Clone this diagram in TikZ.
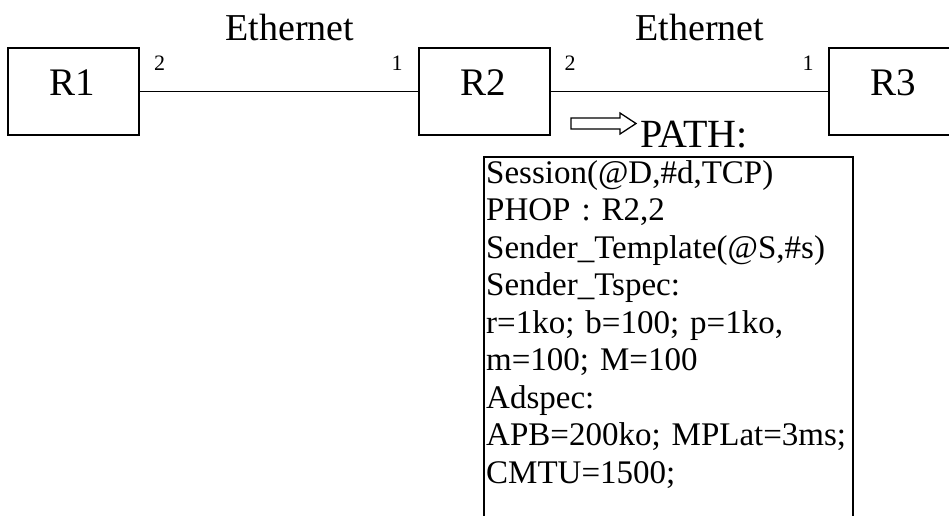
\documentclass[tikz,border=0pt]{standalone}
\usepackage{fontspec}
\setmainfont{Liberation Serif}
\begin{document}
\begin{tikzpicture}[x=1pt,y=-1pt,
  router/.style={draw, line width=1.8pt, minimum width=131pt, minimum height=87pt,
                 inner sep=0pt},
  rlabel/.style={font=\fontsize{39}{41}\selectfont, inner sep=0pt, anchor=base},
  link/.style={line width=1.6pt},
  port/.style={font=\fontsize{22}{24}\selectfont, inner sep=0pt, anchor=base},
  medium/.style={font=\fontsize{38}{40}\selectfont, inner sep=0pt, anchor=base},
  msgbox/.style={draw, line width=1.8pt, anchor=north west, minimum width=369pt,
                 minimum height=450pt, inner sep=0pt}
]
\useasboundingbox (0,0) rectangle (949,515);
\clip (0,0) rectangle (949,515);

% routers
\node[router] (r1) at (73.5,91.5) {};
\node[router] (r2) at (484.5,91.5) {};
\node[router] (r3) at (894.5,91.5) {};
\node[rlabel] (r1t) at (72.5,95) {R1};
\node[rlabel] (r2t) at (483.5,95) {R2};
\node[rlabel] (r3t) at (893.5,95) {R3};

% links
\draw[link] (r1.east) -- (r2.west);
\draw[link] (r2.east) -- (r3.west);

% link labels
\node[medium] (eth1) at (290,40) {Ethernet};
\node[medium] (eth2) at (700,40) {Ethernet};
\node[port] (p12) at (159.5,70) {2};
\node[port] (p21) at (397,70) {1};
\node[port] (p22) at (570,70) {2};
\node[port] (p31) at (808,70) {1};

% hollow arrow and message title
\draw[line width=1.3pt, line join=miter]
  (571,118) -- (620,118) -- (620,113) -- (636,123.5) -- (620,134) -- (620,129) -- (571,129) -- cycle;
\node[font=\fontsize{40}{42}\selectfont, inner sep=0pt, anchor=base west] (ptitle) at (640,147) {PATH:};

% message contents
\node[msgbox] (pbox) at (483,156) {};
\node[anchor=base west, inner sep=0pt, text width=420pt, align=left,
      font=\fontsize{33}{37.5}\selectfont] (pbody) at (486,183) {%
Session(@D,\#d,TCP)\\
PHOP : R2,2\\
Sender\_Template(@S,\#s)\\
Sender\_Tspec:\\
r=1ko; b=100; p=1ko,\\
m=100; M=100\\
Adspec:\\
APB=200ko; MPLat=3ms;\\
CMTU=1500;};
\end{tikzpicture}
\end{document}
